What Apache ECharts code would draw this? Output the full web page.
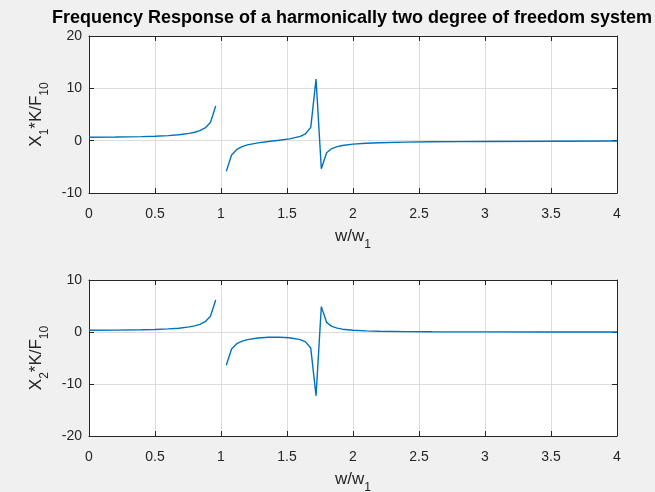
<!DOCTYPE html>
<html>
<head>
<meta charset="utf-8">
<script src="https://cdn.jsdelivr.net/npm/echarts@6/dist/echarts.min.js"></script>
<style>
  html, body { margin: 0; padding: 0; background: #f0f0f0; }
  #chart { width: 655px; height: 492px; }
</style>
</head>
<body>
<div id="chart"></div>
<script>
// frequency ratio w/w1 (null where the response is infinite, r = 1)
var ratio = [0, 0.2, 0.4, 0.5, 0.6, 0.68, 0.76, 0.8, 0.84, 0.88, 0.92, 0.96, 1.0,
    1.04, 1.08, 1.12, 1.16, 1.2, 1.28, 1.36, 1.44, 1.52, 1.6, 1.64, 1.68, 1.72, 1.76,
    1.8, 1.84, 1.88, 1.92, 2.0, 2.1, 2.2, 2.4, 2.6, 2.8, 3.0, 3.5, 4.0];
var x1Resp = [0.667, 0.690, 0.771, 0.848, 0.971, 1.127, 1.390, 1.601, 1.916, 2.441, 3.487, 6.618, null,
    -5.867, -2.732, -1.679, -1.145, -0.816, -0.416, -0.154, 0.074, 0.343, 0.816, 1.315, 2.541, 11.764, -5.361,
    -2.307, -1.506, -1.133, -0.915, -0.667, -0.501, -0.402, -0.286, -0.220, -0.176, -0.146, -0.098, -0.072];
var x2Resp = [0.333, 0.352, 0.419, 0.485, 0.592, 0.733, 0.977, 1.177, 1.480, 1.992, 3.023, 6.137, null,
    -6.388, -3.278, -2.252, -1.749, -1.457, -1.150, -1.023, -1.005, -1.107, -1.457, -1.907, -3.090, -12.274, 4.885,
    1.860, 1.087, 0.738, 0.542, 0.333, 0.208, 0.142, 0.076, 0.046, 0.030, 0.021, 0.010, 0.005];
var topTicks = [-10, 20, 10];     // min, max, step
var bottomTicks = [-20, 10, 10];

var chart = echarts.init(document.getElementById('chart'));

var axisCol = '#262626';
var gridCol = '#dcdcdc';

function pairs(ys) {
    return ratio.map(function (r, i) {
        return [r, ys[i] === null ? '-' : ys[i]];
    });
}

// main text + lowered subscript
var nameRich = {
    a: { fontSize: 17, lineHeight: 20, color: axisCol, fontFamily: 'Liberation Sans' },
    s: { fontSize: 12, lineHeight: 12, padding: [17, 0, 0, 0], color: axisCol, fontFamily: 'Liberation Sans' }
};

function xAxisMain(gi) {
    return {
        type: 'value', gridIndex: gi, min: 0, max: 4, interval: 0.5,
        name: '{a|w/w}{s|1}', nameLocation: 'middle', nameGap: 33,
        nameTextStyle: { rich: nameRich },
        axisLine: { onZero: false, lineStyle: { color: axisCol } },
        axisTick: { inside: true, length: 5, lineStyle: { color: axisCol } },
        axisLabel: { color: axisCol, fontSize: 14, margin: 14, fontFamily: 'Liberation Sans' },
        splitLine: { show: true, lineStyle: { color: gridCol } }
    };
}
function xAxisTop(gi) {
    return {
        type: 'value', gridIndex: gi, min: 0, max: 4, interval: 0.5, position: 'top',
        axisLine: { onZero: false, lineStyle: { color: axisCol } },
        axisTick: { inside: true, length: 5, lineStyle: { color: axisCol } },
        axisLabel: { show: false }, splitLine: { show: false }
    };
}
function yAxisMain(gi, t, nm) {
    return {
        type: 'value', gridIndex: gi, min: t[0], max: t[1], interval: t[2],
        name: nm, nameLocation: 'middle', nameGap: 36, nameRotate: 90,
        nameTextStyle: { rich: nameRich },
        axisLine: { show: true, onZero: false, lineStyle: { color: axisCol } },
        axisTick: { show: true, inside: true, length: 5, lineStyle: { color: axisCol } },
        axisLabel: { color: axisCol, fontSize: 14, margin: 7, fontFamily: 'Liberation Sans' },
        splitLine: { show: true, lineStyle: { color: gridCol } }
    };
}
function yAxisRight(gi, t) {
    return {
        type: 'value', gridIndex: gi, min: t[0], max: t[1], interval: t[2], position: 'right',
        axisLine: { show: true, onZero: false, lineStyle: { color: axisCol } },
        axisTick: { show: true, inside: true, length: 5, lineStyle: { color: axisCol } },
        axisLabel: { show: false }, splitLine: { show: false }
    };
}

var option = {
    backgroundColor: '#f0f0f0',
    animation: false,
    title: {
        text: 'Frequency Response of a harmonically two degree of freedom system',
        left: 347, top: 4, textAlign: 'center',
        textStyle: { fontSize: 18, fontWeight: 'bold', color: '#000', fontFamily: 'Liberation Sans' }
    },
    grid: [
        { left: 89, top: 36, width: 528, height: 157, show: true, backgroundColor: '#fff', borderWidth: 0, outerBoundsMode: 'none' },
        { left: 89, top: 280, width: 528, height: 156, show: true, backgroundColor: '#fff', borderWidth: 0, outerBoundsMode: 'none' }
    ],
    xAxis: [xAxisMain(0), xAxisTop(0), xAxisMain(1), xAxisTop(1)],
    yAxis: [
        yAxisMain(0, topTicks, '{a|X}{s|1}{a|*K/F}{s|10}'), yAxisRight(0, topTicks),
        yAxisMain(1, bottomTicks, '{a|X}{s|2}{a|*K/F}{s|10}'), yAxisRight(1, bottomTicks)
    ],
    series: [
        {
            type: 'line', xAxisIndex: 0, yAxisIndex: 0, data: pairs(x1Resp),
            showSymbol: false, connectNulls: false,
            lineStyle: { color: '#0072BD', width: 1.4 }
        },
        {
            type: 'line', xAxisIndex: 2, yAxisIndex: 2, data: pairs(x2Resp),
            showSymbol: false, connectNulls: false,
            lineStyle: { color: '#0072BD', width: 1.4 }
        }
    ]
};
chart.setOption(option);
</script>
</body>
</html>
